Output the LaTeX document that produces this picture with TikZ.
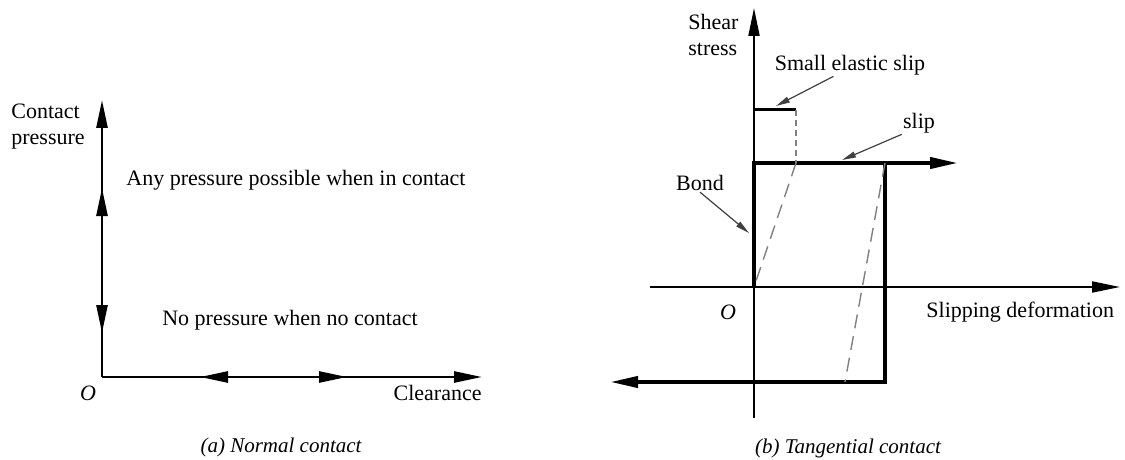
\documentclass[tikz,border=0pt]{standalone}
\usepackage{fontspec}
\setmainfont{Liberation Serif}
\usetikzlibrary{arrows.meta}

\tikzset{
  axisa/.style={line width=1.3pt},
  axisb/.style={line width=1pt},
  bound/.style={line width=2pt},
  unload/.style={gray, line width=0.7pt, dash pattern=on 7pt off 4pt},
  lead/.style={black!75, line width=0.6pt, -{Triangle[length=7pt,width=3pt]}},
  lbl/.style={inner sep=0.5pt},
  caption/.style={inner sep=0.5pt, font=\fontsize{10.5}{12}\selectfont\itshape}
}

\begin{document}
\begin{tikzpicture}[x=0.5pt, y=-0.5pt, font=\fontsize{11}{13}\selectfont,
    >={Triangle[length=14pt,width=5.5pt]}]
  \useasboundingbox (0,0) rectangle (1125,460);
  % (a) normal contact
  \coordinate (a0) at (102,377);
  \coordinate (ay) at (102,100);
  \coordinate (ax) at (482,377);
  \draw[axisa,->] (a0) -- (ay);
  \draw[axisa,->] (a0) -- (ax);
  \coordinate (u0) at (102,250);  \coordinate (u1) at (102,188);
  \coordinate (d0) at (102,280);  \coordinate (d1) at (102,333);
  \coordinate (l0) at (260,377);  \coordinate (l1) at (200,377);
  \coordinate (r0) at (290,377);  \coordinate (r1) at (347,377);
  \foreach \a/\b in {u0/u1,d0/d1,l0/l1,r0/r1} \draw[axisa,->] (\a)--(\b);
  \node[lbl, anchor=west, align=left] (cp) at (10,127) {Contact\\pressure};
  \node[lbl] (anyp) at (296,180) {Any pressure possible when in contact};
  \node[lbl] (nop) at (290,320) {No pressure when no contact};
  \node[lbl] (oa) at (88,393) {\itshape O};
  \node[lbl, anchor=east] (clr) at (483,393) {Clearance};
  \node[caption] (capa) at (281,447) {(a) Normal contact};
  % (b) tangential contact
  \coordinate (b0) at (754,287);
  \coordinate (by) at (754,8);
  \coordinate (bb) at (754,418);
  \coordinate (bl) at (650,287);
  \coordinate (bx) at (1120,287);
  \draw[axisb,->] (bb) -- (by);
  \draw[axisb,->] (bl) -- (bx);
  \coordinate (s0) at (754,163);  \coordinate (s1) at (958,163);
  \coordinate (c0) at (885,163);  \coordinate (c1) at (885,382);
  \coordinate (c2) at (610,382);  \coordinate (c3) at (845,382);
  \draw[bound,->] (b0) -- (s0) -- (s1);
  \draw[bound,->] (c0) -- (c1) -- (c2);
  \coordinate (e0) at (754,110);  \coordinate (e1) at (796,110);
  \coordinate (e2) at (796,163);
  \draw[line width=1.5pt] (e0) -- (e1);
  \draw[gray, line width=0.7pt, dash pattern=on 3pt off 2pt] (e1) -- (e2);
  \draw[unload] (e2) -- (b0);
  \draw[unload] (c0) -- (c3);
  \node[lbl, anchor=west, align=left] (shear) at (687,35) {Shear\\stress};
  \node[lbl] (ses) at (850,65) {Small elastic slip};
  \node[lbl] (slip) at (919,123) {slip};
  \node[lbl] (bond) at (700,183) {Bond};
  \node[lbl] (ob) at (728,312) {\itshape O};
  \node[lbl, anchor=west] (sdef) at (925,312) {Slipping deformation};
  \node[caption] (capb) at (848,448) {(b) Tangential contact};
  \coordinate (setip) at (776,106);
  \coordinate (sltip) at (842,160);
  \coordinate (botip) at (749,233);
  \draw[lead] ([xshift=30pt]ses.south west) -- (setip);
  \draw[lead] (slip.south west) -- (sltip);
  \draw[lead] (bond.south) -- (botip);
\end{tikzpicture}
\end{document}
